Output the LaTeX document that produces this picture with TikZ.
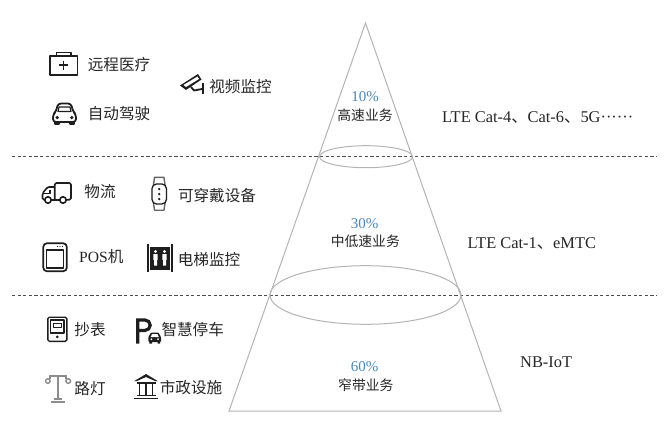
\documentclass[tikz,border=0pt]{standalone}
\usepackage{fontspec}
\setmainfont{Liberation Serif}
\newfontfamily\cjk{Noto Sans CJK SC}
\definecolor{txt}{HTML}{262626}
\definecolor{pct}{HTML}{4A87BA}
\definecolor{tri}{HTML}{B4B4B4}
\definecolor{ico}{HTML}{1E1E1E}
\tikzset{
  lab/.style={inner sep=0pt,text=txt,font=\fontsize{15.6}{16}\selectfont\cjk},
  mid/.style={inner sep=0pt,text=txt,font=\fontsize{13.8}{14}\selectfont\cjk},
  per/.style={inner sep=0pt,text=pct,font=\fontsize{15}{16}\selectfont},
  tech/.style={inner sep=0pt,anchor=west,text=txt,font=\fontsize{16.4}{17}\selectfont},
  cone/.style={draw=tri,line width=1pt},
  sep/.style={draw=black!70,line width=0.8pt,dash pattern=on 3.2pt off 2.4pt},
  icon/.style={draw=ico,line width=1.5pt,line join=round},
  lamp/.style={draw=black!45,line width=1.8pt}
}
\begin{document}
\begin{tikzpicture}[x=1pt,y=-1pt]
\useasboundingbox (0,0) rectangle (664,423);
\fill[white] (0,0) rectangle (664,423);
% separators
\coordinate (s1l) at (12,156.5); \coordinate (s1r) at (657,156.5);
\coordinate (s2l) at (12,295.5); \coordinate (s2r) at (657,295.5);
\draw[sep] (s1l) -- (s1r);
\draw[sep] (s2l) -- (s2r);
% cone
\coordinate (apex) at (365.5,23); \coordinate (bl) at (229,411); \coordinate (br) at (501,411);
\draw[cone] (apex) -- (bl) -- (br) -- cycle;
\draw[cone] (366,156.7) ellipse [x radius=46.5,y radius=11];
\draw[cone] (365.5,295) ellipse [x radius=95.5,y radius=29.3];
% middle labels
\node[per] (p1) at (365,96.7) {10\%};
\node[mid] (m1) at (365,115) {高速业务};
\node[per] (p2) at (364.5,223.3) {30\%};
\node[mid] (m2) at (365.3,241.7) {中低速业务};
\node[per] (p3) at (364.5,366.7) {60\%};
\node[mid] (m3) at (365.8,385) {窄带业务};
% right labels
\node[tech] (t1) at (442,118) {LTE Cat-4{\cjk 、}Cat-6{\cjk 、}5G······};
\node[tech] (t2) at (467.5,244) {LTE Cat-1{\cjk 、}eMTC};
\node[tech] (t3) at (520,362) {NB-IoT};
% left labels
\node[lab] (a1) at (119,64.3) {远程医疗};
\node[lab] (a2) at (240.5,86.7) {视频监控};
\node[lab] (a3) at (119,113.3) {自动驾驶};
\node[lab] (b1) at (100,192) {物流};
\node[lab] (b2) at (217,195.7) {可穿戴设备};
\node[lab,anchor=west] (b3) at (79,256.7) {\fontspec{Liberation Serif}POS\cjk 机};
\node[lab] (b4) at (209,259.3) {电梯监控};
\node[lab] (c1) at (90,330) {抄表};
\node[lab] (c2) at (192.7,330) {智慧停车};
\node[lab] (c3) at (90,389) {路灯};
\node[lab] (c4) at (191,388) {市政设施};
% medical kit
\draw[icon] (49.8,55.8) rectangle (77.6,75);
\draw[icon] (56.7,55.8) -- (56.7,52.5) -- (71,52.5) -- (71,55.8);
\draw[icon,line width=1.2pt] (59,65) -- (68,65) (63.5,60.5) -- (63.5,69.5);
% car
\draw[icon,line width=1.8pt,rounded corners=3pt] (53,122) -- (53,114.5) -- (56,111.5) -- (58,103.5) -- (71,103.5) -- (73,111.5) -- (76,114.5) -- (76,122) -- cycle;
\draw[icon,line width=1.2pt] (59,107) -- (70,107) -- (71,111.5) -- (58,111.5) -- cycle;
\fill[ico] (57.2,117.5) circle (1.8) (71.8,117.5) circle (1.8);
\draw[icon,line width=1.8pt] (55,122) -- (55,124) -- (59,124) -- (59,122) (70,122) -- (70,124) -- (74,124) -- (74,122);
% camera
\fill[ico] (180,85.5) -- (198,74) -- (201.5,79.5) -- (186,90) -- cycle;
\fill[white] (183.5,85) -- (197.5,76.5) -- (199,79) -- (186,87) -- cycle;
\draw[icon,line width=1.8pt] (191,87) -- (194,90.5) -- (202,89);
\draw[icon,line width=1.8pt] (203.3,82.5) -- (203.3,94);
% truck
\draw[icon,line width=1.6pt,rounded corners=1.5pt] (54.7,199.7) -- (54.7,183) -- (71,183) -- (71,199.7) -- (66.5,199.7);
\draw[icon,line width=1.6pt] (59.5,199.7) -- (51.5,199.7);
\draw[icon,line width=1.6pt,rounded corners=1.5pt] (54.7,187) -- (47.5,187) -- (42.5,193.5) -- (42.5,199.7) -- (44.5,199.7);
\draw[icon,line width=1.2pt] (44,193.5) -- (50,193.5) -- (50,190);
\draw[icon,line width=1.6pt,fill=white] (48,200) circle (3.2) (63,200) circle (3.2);
% watch
\draw[icon,draw=black!60,line width=1.4pt,line join=round] (153.5,185) -- (154.5,177.3) -- (164,177.3) -- (165,185);
\draw[icon,draw=black!60,line width=1.4pt] (153.5,203) -- (154.5,210.2) -- (164,210.2) -- (165,203);
\draw[icon,rounded corners=4.5pt,line width=1.3pt] (152,184) rectangle (166.4,204);
\fill[ico] (159.2,189) circle (1.3) (159.2,194) circle (1.3) (159.2,199) circle (1.3);
% POS
\draw[icon,rounded corners=3.5pt,line width=1.7pt] (43.3,243.3) rectangle (66.8,271.2);
\draw[icon,line width=1.3pt] (46.5,250) rectangle (63.8,268);
\fill[ico] (57.5,246.5) circle (.7) (60,246.5) circle (.7) (62.5,246.5) circle (.7);
% elevator
\fill[ico] (150,246.5) rectangle (170,269.5);
\draw[icon,line width=1.9pt] (148.2,244.3) -- (148.2,271.7) (171.8,244.3) -- (171.8,271.7);
\fill[white] (155.5,251.5) circle (1.6) (164.5,251.5) circle (1.6);
\fill[white] (153.3,254) rectangle (157.7,260) (162.3,254) rectangle (166.7,260);
\fill[white] (154,260) rectangle (157,265.5) (163,260) rectangle (166,265.5);
% meter
\draw[icon,rounded corners=1.5pt,line width=1.4pt] (47.8,317.2) rectangle (66.8,341.3);
\draw[icon,line width=1.1pt] (50.5,320) rectangle (64,333);
\draw[icon,line width=1pt] (53,323) rectangle (61.5,327.5);
\fill[ico] (57.3,336.8) circle (1.5);
% parking
\draw[ico,line width=3.2pt,line join=miter] (137.8,343.5) -- (137.8,320) -- (145,320) arc (-90:90:5.2) -- (137.8,330.4);
\fill[ico,rounded corners=1pt] (148.3,342) -- (148.3,337) -- (151,332.5) -- (158.5,332.5) -- (161,337) -- (161,342) -- cycle;
\fill[white] (152,334.2) -- (157.5,334.2) -- (158.8,337) -- (150.7,337) -- cycle;
\fill[white] (151.3,339.2) circle (1) (158,339.2) circle (1);
\fill[ico] (149.3,342) rectangle (152,343.6) (157.5,342) rectangle (160.2,343.6);
% street lamp
\draw[lamp] (50,379) -- (50,376.3) -- (66,376.3) -- (66,379);
\draw[lamp] (57.8,376.3) -- (57.8,399);
\draw[lamp,line width=1.4pt] (47.8,381) circle (2.3) (68.2,381) circle (2.3);
\draw[lamp] (54,399) -- (61.5,399);
\draw[lamp,line width=2.2pt] (51,402.3) -- (64.5,402.3);
% civic building
\fill[ico] (134,381.2) -- (146,374) -- (158,381.2) -- (155.5,381.2) -- (146,377) -- (136.5,381.2) -- cycle;
\draw[icon,line width=1.5pt] (136.5,382.8) -- (155.5,382.8);
\draw[icon,line width=1.4pt] (139.3,384) -- (139.3,395) (146,384) -- (146,395) (152.7,384) -- (152.7,395);
\draw[icon,line width=1.4pt] (136.5,395.5) -- (155.5,395.5);
\draw[icon,line width=1.6pt] (134,398.6) -- (157.7,398.6);
\end{tikzpicture}
\end{document}
